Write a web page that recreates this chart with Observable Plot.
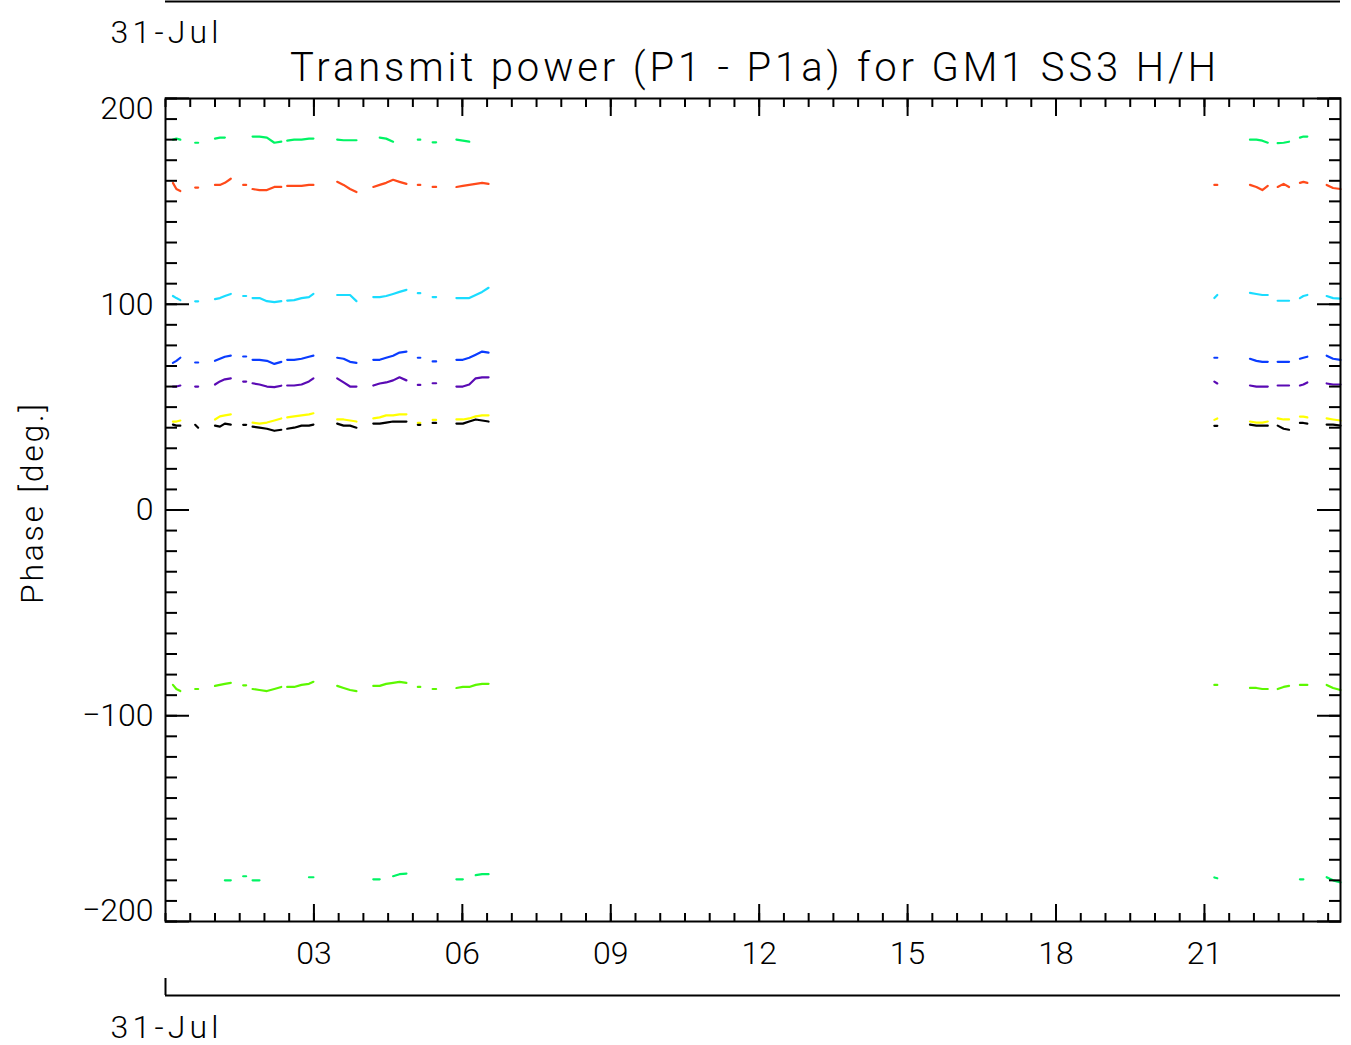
<!DOCTYPE html>
<html><head><meta charset="utf-8">
<script src="https://cdn.jsdelivr.net/npm/d3@7"></script>
<script src="https://cdn.jsdelivr.net/npm/@observablehq/plot@0.6"></script>
<style>html,body{margin:0;padding:0;background:#fff;}</style>
</head><body><div id="chart"></div>
<script>
const titleText = "Transmit power (P1 - P1a) for GM1 SS3 H/H";
const dateLabel = "31-Jul";
const yLabel = "Phase [deg.]";

// hours since 31-Jul 00:00
const times = [
  0.15, 0.22, 0.3,
  0.6, 0.66,
  1.0, 1.1, 1.2, 1.32,
  1.57, 1.63,
  1.76, 1.9, 2.05, 2.2, 2.34,
  2.46, 2.6, 2.75, 2.9, 2.99,
  3.47, 3.6, 3.73, 3.86,
  4.2, 4.33, 4.46, 4.6, 4.73, 4.87,
  5.1, 5.15,
  5.4, 5.47,
  5.88, 6.01, 6.14, 6.27, 6.4, 6.53,
  21.2, 21.26,
  21.92, 22.05, 22.17, 22.28,
  22.48, 22.6, 22.71,
  22.93, 23.0, 23.08,
  23.47, 23.6, 23.75
];
const segment = [1,1,1,2,2,3,3,3,3,4,4,5,5,5,5,5,6,6,6,6,6,7,7,7,7,8,8,8,8,8,8,9,9,10,10,11,11,11,11,11,11,12,12,13,13,13,13,14,14,14,15,15,15,16,16,16];

const greenTop = [
  180, 180.5, 180,
  178.5, 178.5,
  180.5, 181, 181, null,
  null, null,
  181.5, 181.5, 181, 178.5, 179,
  179.5, 180, 180, 180.5, 180.5,
  180, 179.7, 179.7, 179.7,
  null, 181, 180.5, 179, null, null,
  180, 180,
  178.7, 178.7,
  180, 179.5, 179, null, null, null,
  null, null,
  180, 180, 179.5, 178.5,
  178.3, 178.5, 179,
  181, 181.5, 181.5,
  null, null, null
];
const greenBottom = [
  null, null, null,
  null, null,
  null, null, -180, -180,
  -178, -178,
  -180, -180, null, null, null,
  null, null, null, -178.5, -178.5,
  null, null, null, null,
  -179.5, -179.5, null, -178, -177, -176.7,
  null, null,
  null, null,
  -179.5, -179.5, null, -177.5, -177, -177,
  -178.6, -179,
  null, null, null, null,
  null, null, null,
  -179.5, -179.5, null,
  -178.5, -180, -181
];
const orange = [
  159, 156, 155,
  156.7, 156.7,
  158, 158, 159, 161,
  158, 158,
  156, 155.5, 155.5, 157, 157,
  157.5, 157.5, 157.5, 158, 158,
  159.5, 158, 156, 154.5,
  157, 158, 159, 160.5, 159.5, 158.5,
  158, 158,
  157, 157,
  157, 157.5, 158, 158.5, 159, 158.5,
  158, 158,
  158, 157, 155.5, 157.5,
  157, 158.5, 157,
  159, 159.5, 159,
  158, 156.5, 156
];
const cyan = [
  104, 103, 102,
  101.4, 101.4,
  102.5, 103, 104, 105,
  104, 104,
  103, 103, 101.5, 101, 101.5,
  101.8, 102, 103, 103.5, 105,
  104.5, 104.5, 104.5, 101.5,
  103.5, 103.5, 104, 105, 106, 107,
  105.4, 105.4,
  103.5, 103.5,
  103, 103, 103, 104.5, 106, 108,
  103, 104.5,
  105.5, 105, 104.5, 104.5,
  101.7, 101.7, 101.7,
  103, 104, 104.5,
  104, 103, 102.7
];
const blue = [
  71.5, 72.5, 74,
  71.7, 71.7,
  72.5, 73.5, 74.5, 75,
  74.6, 74.6,
  73, 73, 72.5, 71, 72,
  73, 73, 73.5, 74.5, 75,
  74, 73.5, 72, 71.5,
  73, 73, 74, 75, 76.5, 77,
  74, 74,
  72.2, 72.2,
  73, 73, 74, 75.5, 77, 76.5,
  74, 74,
  73.5, 72.5, 72, 72,
  72, 72, 72,
  73.5, 74, 74.5,
  75, 73.5, 73
];
const purple = [
  60, 60, 60.5,
  60, 60,
  61, 62.5, 63.5, 64,
  62.4, 62.4,
  61.6, 61, 60, 59.7, 60.4,
  60.5, 60.5, 61, 62.5, 64,
  64, 62, 60, 60,
  60.5, 61.5, 62, 63, 64.5, 63,
  60.8, 60.8,
  61.6, 61.6,
  60, 60, 61, 64, 64.5, 64.5,
  62.4, 61.5,
  60.5, 60, 60, 60,
  60.5, 60.5, 60.5,
  60.5, 61, 62,
  61.5, 61, 61
];
const yellow = [
  43, 43, 43.5,
  null, null,
  44, 45.5, 46, 46.5,
  null, null,
  42.5, 42, 42.5, 43.5, 44.5,
  45, 45.5, 46, 46.5, 47,
  44, 44, 43.5, 43,
  44.5, 45, 46, 46, 46.5, 46.5,
  42.3, 42.3,
  43.8, 43.8,
  44, 44, 44.5, 45.5, 46, 46,
  43.8, 44.5,
  43, 42.5, 42.5, 43,
  44.5, 44, 44,
  45.4, 45.4, 45,
  44.5, 44, 43.5
];
const black = [
  41.5, 41, 41,
  41.4, 40,
  41, 40.5, 42, 41.5,
  41.4, 41.4,
  40.5, 40, 39.5, 38.5, 39,
  39.5, 40, 41, 41, 41.5,
  42, 41, 41, 40,
  42, 42, 42.5, 43, 43, 43,
  41.4, 41.4,
  42.3, 42.3,
  42, 42, 43, 44, 43.5, 43,
  40.9, 40.9,
  41.5, 41, 41, 41,
  41, 39.5, 39,
  42.3, 42.3, 42,
  41.5, 41.5, 41
];
const lightGreen = [
  -85, -87, -88,
  -87, -87,
  -85.5, -85, -84.5, -84,
  -85.2, -85.2,
  -87, -87.5, -88, -87, -86,
  -86, -86, -85, -84.5, -83.5,
  -85.5, -86.5, -87.5, -88,
  -85.5, -85.5, -84.5, -84, -83.5, -84,
  -86, -86,
  -87, -87,
  -86.5, -86, -86, -85, -84.5, -84.5,
  -85, -85,
  -86.5, -86.5, -87, -87,
  -87, -86, -85.5,
  -85, -85, -85,
  -85, -86.5, -87.5
];

const seriesNames = ["greenTop", "orange", "cyan", "blue", "purple", "yellow", "black", "lightGreen", "greenBottom"];
const seriesValues = [greenTop, orange, cyan, blue, purple, yellow, black, lightGreen, greenBottom];
const seriesColors = ["#00f464", "#ff4a1a", "#1adcff", "#0a3cff", "#5a0ab4", "#ffff00", "#000000", "#5cf800", "#00f464"];

const xMajor = [3, 6, 9, 12, 15, 18, 21];
const yMajor = [-200, -100, 0, 100, 200];

const data = [];
seriesNames.forEach((name, k) => {
  times.forEach((t, i) => {
    data.push({t, v: seriesValues[k][i], name, key: name + "-" + segment[i]});
  });
});

const xMinor = d3.range(0, 23.76, 0.5);
const yMinor = d3.range(-200, 201, 10);
const font = "Roboto, 'DejaVu Sans', sans-serif";
const yFmt = d => d < 0 ? "\u2212" + (-d) : String(d);

const tickCommon = {fill: "none", stroke: "black", strokeWidth: 2, label: null};
const labelCommon = {tickSize: 0, fontSize: 32, fontWeight: 300, fill: "black", label: null};
const textCommon = {text: d => d, fontWeight: 300, fill: "black", lineAnchor: "middle"};

const chart = Plot.plot({
  width: 1351,
  height: 1045,
  marginTop: 98,
  marginBottom: 124,
  marginLeft: 165,
  marginRight: 11,
  style: {fontFamily: font, background: "#fff", color: "black", overflow: "visible"},
  x: {domain: [0, 23.75]},
  y: {domain: [-200, 200]},
  color: {domain: seriesNames, range: seriesColors},
  marks: [
    Plot.line(data, {x: "t", y: "v", z: "key", stroke: "name", strokeWidth: 2.2, curve: "linear"}),
    Plot.frame({stroke: "black", strokeWidth: 2}),
    // inward ticks, all four sides
    Plot.axisX(xMinor, {anchor: "bottom", tickSize: -8, ...tickCommon}),
    Plot.axisX(xMajor, {anchor: "bottom", tickSize: -17, ...tickCommon}),
    Plot.axisX(xMinor, {anchor: "top", tickSize: -8, ...tickCommon}),
    Plot.axisX(xMajor, {anchor: "top", tickSize: -17, ...tickCommon}),
    Plot.axisY(yMinor, {anchor: "left", tickSize: -12, ...tickCommon}),
    Plot.axisY(yMajor, {anchor: "left", tickSize: -24, ...tickCommon}),
    Plot.axisY(yMinor, {anchor: "right", tickSize: -12, ...tickCommon}),
    Plot.axisY(yMajor, {anchor: "right", tickSize: -24, ...tickCommon}),
    // tick labels
    Plot.axisX(xMajor, {anchor: "bottom", tickPadding: 20, tickFormat: d => String(d).padStart(2, "0"), ...labelCommon}),
    Plot.axisY([100, 0, -100], {anchor: "left", tickPadding: 12, tickFormat: yFmt, ...labelCommon}),
    Plot.axisY([200], {anchor: "left", tickPadding: 12, tickFormat: yFmt, dy: 10, ...labelCommon}),
    Plot.axisY([-200], {anchor: "left", tickPadding: 12, tickFormat: yFmt, dy: -11, ...labelCommon}),
    // extra time axes lines above and below
    Plot.ruleY([200], {dy: -97, stroke: "black", strokeWidth: 2}),
    Plot.ruleY([-200], {dy: 74, stroke: "black", strokeWidth: 2}),
    Plot.axisX([0], {anchor: "bottom", tickSize: -17, dy: 74, ...tickCommon}),
    // texts
    Plot.text([titleText], {...textCommon, frameAnchor: "top", textAnchor: "middle", dy: -30, fontSize: 40}),
    Plot.text([dateLabel], {...textCommon, frameAnchor: "top-left", textAnchor: "start", dx: -55, dy: -66, fontSize: 32}),
    Plot.text([dateLabel], {...textCommon, frameAnchor: "bottom-left", textAnchor: "start", dx: -55, dy: 106, fontSize: 32}),
    Plot.text([yLabel], {...textCommon, frameAnchor: "left", textAnchor: "middle", dx: -133, dy: -6, rotate: -90, fontSize: 32})
  ]
});

const fitWidths = {[titleText]: 926, [dateLabel]: 108, [yLabel]: 200};
d3.select(chart).selectAll("text").each(function () {
  const w = fitWidths[this.textContent];
  if (w) d3.select(this).attr("textLength", w).attr("lengthAdjust", "spacing");
});
document.getElementById("chart").appendChild(chart);
</script></body></html>
